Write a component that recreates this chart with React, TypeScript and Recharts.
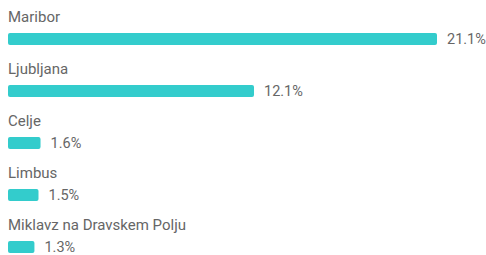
import React from 'react';
import { BarChart, Bar, XAxis, YAxis, LabelList } from 'recharts';

const cities = ['Maribor', 'Ljubljana', 'Celje', 'Limbus', 'Miklavz na Dravskem Polju'];
const shares = [21.1, 12.1, 1.6, 1.5, 1.3];

const data = cities.map((name, i) => ({ name, share: shares[i] }));

const NameLabel = (props: any) => {
  const { x, y, value } = props;
  return (
    <text x={x} y={y - 11} fill="#666" fontSize={15} fontFamily="Roboto, sans-serif">
      {value}
    </text>
  );
};

const ValueLabel = (props: any) => {
  const { x, y, width, height, value } = props;
  return (
    <text
      x={x + width + 10}
      y={y + height / 2}
      dominantBaseline="central"
      fill="#666"
      fontSize={14.5}
      fontFamily="Roboto, sans-serif"
    >
      {value.toFixed(1)}%
    </text>
  );
};

export default function App() {
  return (
    <div style={{ position: 'absolute', left: 0, top: 0, width: 486, height: 255, overflow: 'hidden', background: '#fff' }}>
      <BarChart
        width={486}
        height={273}
        data={data}
        layout="vertical"
        margin={{ top: 13, right: 49, left: 8, bottom: 0 }}
      >
        <XAxis type="number" domain={[0, 21.1]} hide />
        <YAxis type="category" dataKey="name" hide />
        <Bar dataKey="share" fill="#33cccc" barSize={12} radius={2} isAnimationActive={false}>
          <LabelList dataKey="name" content={<NameLabel />} />
          <LabelList dataKey="share" content={<ValueLabel />} />
        </Bar>
      </BarChart>
    </div>
  );
}
